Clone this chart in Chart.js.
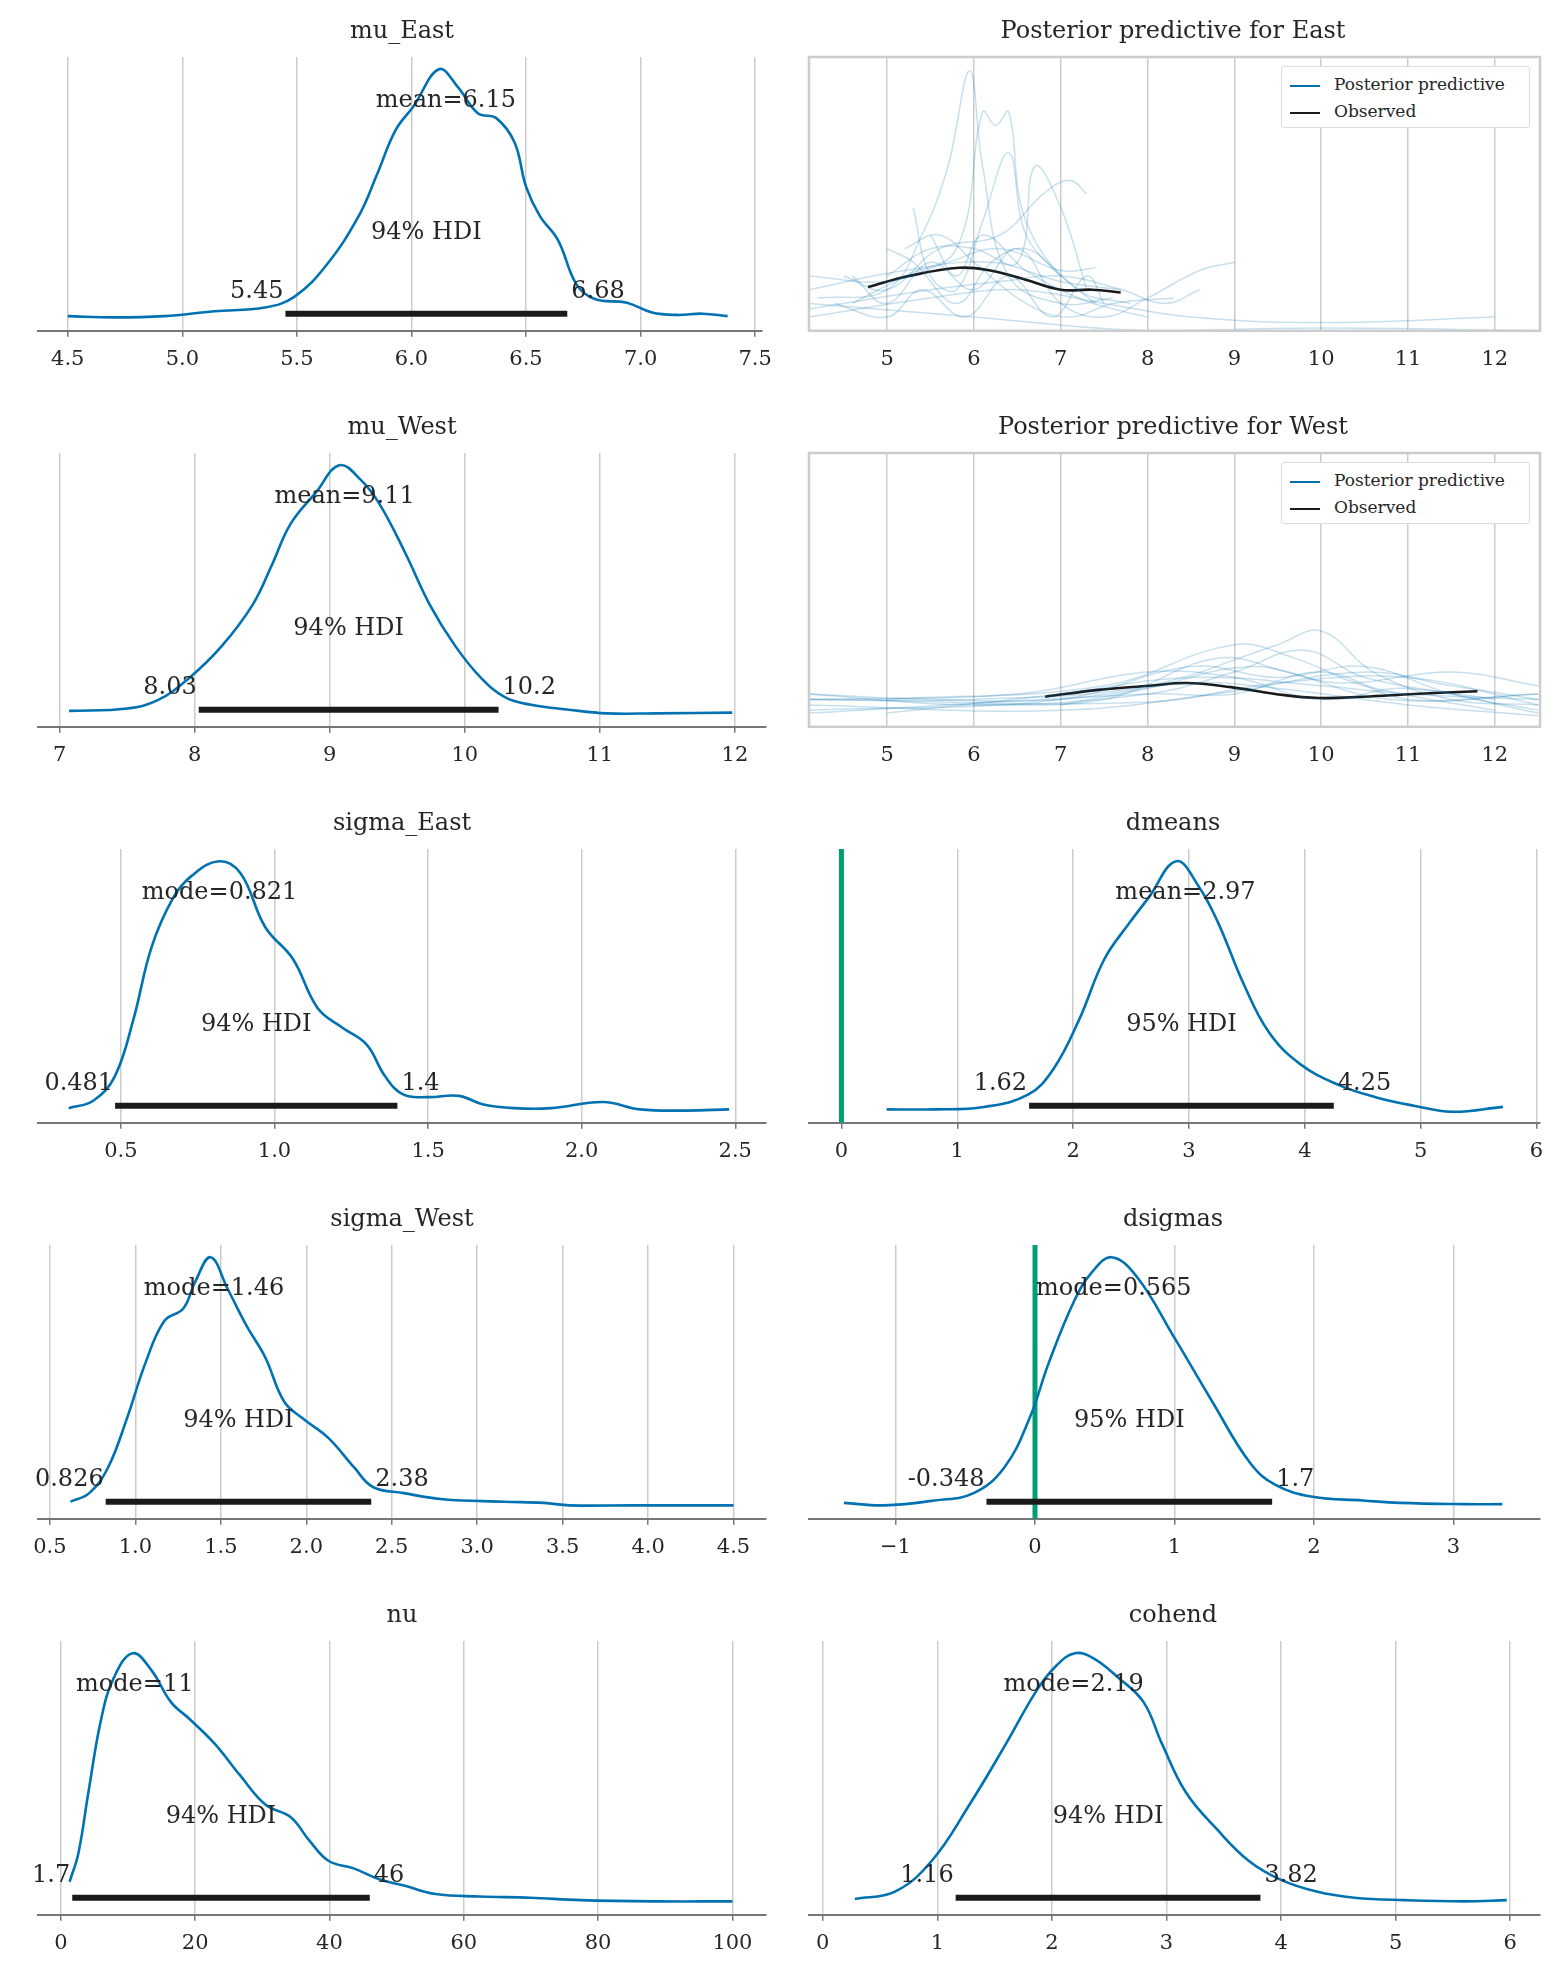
<!DOCTYPE html>
<html>
<head>
<meta charset="utf-8">
<script src="https://cdn.jsdelivr.net/npm/chart.js@4"></script>
<style>
  body { margin: 0; background: #fff; width: 1565px; height: 1980px; position: relative; font-family: 'DejaVu Serif', serif; }
  .cell { position: absolute; width: 782px; height: 396px; }
  .title { position: absolute; top: 16px; left: 0; width: 100%; text-align: center; font-size: 24px; color: #262626; }
  .cell.left .title { padding-left: 22px; box-sizing: border-box; }
  .legend { position: absolute; right: 34px; top: 66px; width: 249px; height: 62px; border: 1.5px solid #ddd; border-radius: 3px; background: #fff; font-size: 17px; color: #262626; box-sizing: border-box; padding: 4px 0 0 8px; }
  .legend div { height: 27px; line-height: 27px; }
  .legend span { display: inline-block; width: 30px; height: 0; border-top: 2.5px solid; vertical-align: middle; margin-right: 14px; }
</style>
</head>
<body>
<script>
/* ---------- data ---------- */
const muEastKde = [[4.5,-0.01],[4.7,-0.015],[4.92,-0.01],[5.14,0.01],[5.36,0.025],[5.49,0.07],[5.63,0.2],[5.77,0.4],[5.85,0.57],[5.93,0.75],[6.01,0.85],[6.12,1.0],[6.2,0.93],[6.29,0.82],[6.37,0.8],[6.45,0.7],[6.5,0.52],[6.56,0.4],[6.64,0.3],[6.72,0.12],[6.8,0.06],[6.94,0.045],[7.05,0.005],[7.16,-0.005],[7.27,0],[7.38,-0.01]];
const muWestKde = [[7.07,-0.005],[7.5,0.005],[7.73,0.04],[7.96,0.13],[8.2,0.26],[8.43,0.43],[8.57,0.59],[8.71,0.76],[8.9,0.89],[9.07,1.0],[9.23,0.94],[9.37,0.84],[9.56,0.64],[9.74,0.43],[9.93,0.26],[10.12,0.13],[10.3,0.05],[10.49,0.02],[10.77,0],[11.05,-0.015],[11.42,-0.015],[11.98,-0.012]];
const sigmaEastKde = [[0.33,-0.01],[0.41,0.02],[0.48,0.12],[0.54,0.35],[0.6,0.65],[0.67,0.85],[0.73,0.94],[0.82,1.0],[0.89,0.95],[0.97,0.73],[1.06,0.6],[1.14,0.4],[1.22,0.32],[1.3,0.25],[1.36,0.12],[1.42,0.045],[1.5,0.035],[1.6,0.04],[1.68,0.005],[1.78,-0.01],[1.9,-0.01],[2.07,0.015],[2.19,-0.015],[2.34,-0.02],[2.48,-0.015]];
const dmeansKde = [[0.39,-0.015],[0.8,-0.015],[1.23,-0.005],[1.61,0.045],[1.83,0.15],[2.05,0.35],[2.27,0.6],[2.49,0.75],[2.65,0.85],[2.89,1.0],[3.08,0.9],[3.25,0.75],[3.47,0.5],[3.69,0.3],[3.96,0.17],[4.29,0.085],[4.61,0.035],[4.94,0],[5.27,-0.025],[5.71,-0.005]];
const sigmaWestKde = [[0.62,0],[0.73,0.035],[0.84,0.14],[0.95,0.34],[1.06,0.57],[1.17,0.74],[1.28,0.79],[1.35,0.9],[1.44,1.0],[1.54,0.87],[1.65,0.72],[1.76,0.59],[1.87,0.41],[1.98,0.34],[2.13,0.26],[2.28,0.14],[2.39,0.06],[2.57,0.035],[2.8,0.01],[3.16,0],[3.39,-0.005],[3.54,-0.015],[3.91,-0.015],[4.5,-0.015]];
const dsigmasKde = [[-1.37,-0.005],[-1.08,-0.015],[-0.72,0.005],[-0.44,0.035],[-0.22,0.14],[-0.04,0.34],[0.1,0.57],[0.28,0.82],[0.41,0.94],[0.55,1.0],[0.73,0.92],[1.0,0.67],[1.27,0.41],[1.54,0.16],[1.72,0.07],[1.99,0.02],[2.35,0.005],[2.62,-0.005],[3.08,-0.01],[3.35,-0.01]];
const nuKde = [[1.3,0.065],[2.6,0.18],[4.1,0.43],[6,0.73],[7.9,0.9],[10.7,1.0],[13.5,0.93],[16.4,0.8],[19.2,0.73],[22.9,0.63],[26.7,0.5],[30.5,0.38],[34.2,0.33],[37.1,0.23],[39.9,0.15],[43.6,0.12],[47.4,0.075],[51.1,0.05],[55.8,0.015],[62.4,0.005],[69.9,0],[77.4,-0.01],[88.7,-0.015],[100,-0.015]];
const cohendKde = [[0.28,-0.005],[0.63,0.025],[0.95,0.15],[1.28,0.38],[1.6,0.63],[1.87,0.85],[2.04,0.95],[2.2,1.0],[2.36,0.98],[2.58,0.9],[2.8,0.8],[2.96,0.63],[3.17,0.43],[3.44,0.28],[3.72,0.15],[3.99,0.075],[4.31,0.025],[4.64,0],[5.08,-0.01],[5.6,-0.015],[5.97,-0.01]];

const observedEast = [[4.78,0.16],[5.25,0.2],[5.83,0.23],[6.19,0.22],[6.56,0.19],[7.0,0.15],[7.36,0.15],[7.69,0.14]];
const observedWest = [[6.82,0.11],[7.43,0.135],[8.02,0.15],[8.45,0.16],[8.96,0.145],[9.47,0.12],[9.97,0.105],[10.49,0.11],[11.07,0.12],[11.8,0.13]];

const ppcEast = [
  [[4.2,0.12],[5.0,0.15],[5.4,0.35],[5.7,0.6],[5.95,0.95],[6.1,0.6],[6.4,0.2],[7.0,0.1],[7.6,0.12]],
  [[4.6,0.1],[5.2,0.2],[5.8,0.3],[6.1,0.8],[6.25,0.75],[6.4,0.8],[6.6,0.4],[7.2,0.15],[7.8,0.1]],
  [[5.3,0.45],[5.5,0.2],[5.8,0.15],[6.1,0.4],[6.4,0.65],[6.6,0.35],[7.0,0.2]],
  [[5.0,0.2],[5.5,0.3],[6.0,0.3],[6.5,0.25],[6.7,0.6],[7.0,0.45],[7.3,0.15]],
  [[4.5,0.2],[5.0,0.15],[5.6,0.3],[6.3,0.35],[6.8,0.5],[7.1,0.55],[7.3,0.5]],
  [[4.1,0.05],[5.5,0.12],[6.5,0.15],[7.5,0.1],[8.5,0.05],[10,0.03],[12,0.05]],
  [[4.1,0.1],[6.0,0.05],[8.0,0.0],[10,0.01],[12.5,0.0]],
  [[4.6,0.2],[5.0,0.1],[5.5,0.25],[6.0,0.15],[6.5,0.3],[7.0,0.1],[7.5,0.05],[8.0,0.12],[8.6,0.22],[9.0,0.25]],
  [[5.0,0.3],[5.3,0.25],[5.8,0.1],[6.2,0.25],[6.6,0.3],[7.0,0.2],[7.4,0.1]],
  [[4.1,0.08],[5.5,0.15],[6.3,0.18],[7.0,0.2],[7.7,0.15],[8.2,0.1],[8.6,0.15]],
  [[5.5,0.35],[5.8,0.2],[6.1,0.35],[6.6,0.22],[7.2,0.12],[7.6,0.08],[8.0,0.05]],
  [[4.1,0.2],[5.0,0.18],[5.7,0.25],[6.3,0.3],[7.0,0.22],[7.4,0.23]],
  [[4.4,0.1],[5.0,0.05],[5.4,0.15],[5.9,0.05],[6.4,0.2],[6.9,0.05],[7.3,0.2],[7.5,0.1]],
  [[4.1,0.15],[5.2,0.22],[6.2,0.25],[7.0,0.18],[7.7,0.15]],
  [[5.2,0.3],[5.6,0.35],[6.0,0.25],[6.6,0.1],[7.1,0.05],[7.6,0.1],[8.3,0.12]],
];
const ppcWest = [
  [[4.1,0.1],[6,0.1],[8,0.15],[9.5,0.3],[10,0.35],[10.6,0.2],[11.5,0.1],[12.5,0.08]],
  [[4.1,0.12],[6,0.08],[8,0.12],[9,0.2],[9.8,0.28],[10.5,0.18],[12,0.1]],
  [[4.1,0.06],[7,0.1],[8.5,0.22],[9.5,0.18],[10.5,0.22],[11.5,0.12],[12.5,0.06]],
  [[5,0.05],[7,0.12],[8.5,0.18],[10,0.15],[11,0.12],[12.5,0.1]],
  [[4.1,0.1],[6.5,0.12],[8,0.2],[9,0.18],[10,0.1],[11,0.14],[12.5,0.05]],
  [[6,0.08],[7.5,0.1],[8.8,0.25],[9.6,0.2],[10.8,0.1],[12.5,0.12]],
  [[4.1,0.08],[7,0.06],[9,0.13],[10.5,0.2],[11.5,0.15],[12.5,0.1]],
  [[4.1,0.12],[5.5,0.1],[7,0.1],[8.5,0.16],[9.5,0.14],[11,0.08],[12.5,0.04]],
  [[7,0.08],[8,0.14],[9.2,0.22],[10.2,0.16],[11.5,0.2],[12.5,0.15]],
  [[4.1,0.05],[8,0.12],[9,0.12],[10,0.2],[11,0.1],[12.5,0.12]],
  [[5,0.1],[7.5,0.15],[9,0.3],[9.7,0.25],[10.5,0.15],[12,0.06]],
  [[4.1,0.1],[8,0.09],[9.5,0.16],[11,0.18],[12.5,0.08]],
];

const ppcTicks = [5, 6, 7, 8, 9, 10, 11, 12];

/* ---------- panel definitions ---------- */
const POSTERIORS = [
  { row: 0, col: 0, title: 'mu_East', kde: muEastKde, range: [4.37, 7.53], ticks: [4.5,5,5.5,6,6.5,7,7.5], tickLabels: ['4.5','5.0','5.5','6.0','6.5','7.0','7.5'], point: ['mean=6.15', 6.15], hdi: [5.45, 6.68], hdiLabels: ['5.45','6.68'], prob: '94% HDI' },
  { row: 1, col: 0, title: 'mu_West', kde: muWestKde, range: [6.84, 12.23], ticks: [7,8,9,10,11,12], tickLabels: ['7','8','9','10','11','12'], point: ['mean=9.11', 9.11], hdi: [8.03, 10.25], hdiLabels: ['8.03','10.2'], prob: '94% HDI' },
  { row: 2, col: 0, title: 'sigma_East', kde: sigmaEastKde, range: [0.23, 2.6], ticks: [0.5,1,1.5,2,2.5], tickLabels: ['0.5','1.0','1.5','2.0','2.5'], point: ['mode=0.821', 0.821], hdi: [0.481, 1.4], hdiLabels: ['0.481','1.4'], prob: '94% HDI' },
  { row: 2, col: 1, title: 'dmeans', kde: dmeansKde, range: [-0.28, 6.03], ticks: [0,1,2,3,4,5,6], tickLabels: ['0','1','2','3','4','5','6'], point: ['mean=2.97', 2.97], hdi: [1.62, 4.25], hdiLabels: ['1.62','4.25'], prob: '95% HDI', ref: 0 },
  { row: 3, col: 0, title: 'sigma_West', kde: sigmaWestKde, range: [0.43, 4.69], ticks: [0.5,1,1.5,2,2.5,3,3.5,4,4.5], tickLabels: ['0.5','1.0','1.5','2.0','2.5','3.0','3.5','4.0','4.5'], point: ['mode=1.46', 1.46], hdi: [0.826, 2.38], hdiLabels: ['0.826','2.38'], prob: '94% HDI' },
  { row: 3, col: 1, title: 'dsigmas', kde: dsigmasKde, range: [-1.62, 3.62], ticks: [-1,0,1,2,3], tickLabels: ['\u22121','0','1','2','3'], point: ['mode=0.565', 0.565], hdi: [-0.348, 1.7], hdiLabels: ['-0.348','1.7'], prob: '95% HDI', ref: 0 },
  { row: 4, col: 0, title: 'nu', kde: nuKde, range: [-3.4, 105], ticks: [0,20,40,60,80,100], tickLabels: ['0','20','40','60','80','100'], point: ['mode=11', 11], hdi: [1.7, 46], hdiLabels: ['1.7','46'], prob: '94% HDI' },
  { row: 4, col: 1, title: 'cohend', kde: cohendKde, range: [-0.12, 6.26], ticks: [0,1,2,3,4,5,6], tickLabels: ['0','1','2','3','4','5','6'], point: ['mode=2.19', 2.19], hdi: [1.16, 3.82], hdiLabels: ['1.16','3.82'], prob: '94% HDI' },
];
const PPCS = [
  { row: 0, col: 1, title: 'Posterior predictive for East', lines: ppcEast, observed: observedEast },
  { row: 1, col: 1, title: 'Posterior predictive for West', lines: ppcWest, observed: observedWest },
];

const BLUE = '#0072B2';
const FONT = "'DejaVu Serif', serif";
const TEXT = '#262626';
const Y_MIN = -0.07, Y_MAX = 1.05;
Chart.defaults.font.family = FONT;
Chart.defaults.color = TEXT;

// annotation text for posterior panels
const hdiTextPlugin = {
  id: 'hdiText',
  afterDatasetsDraw(chart, args, o) {
    if (!o || !o.point) return;
    const { ctx, scales: { x, y } } = chart;
    ctx.save();
    ctx.fillStyle = TEXT;
    ctx.font = '24px ' + FONT;
    ctx.textAlign = 'center';
    ctx.textBaseline = 'middle';
    ctx.fillText(o.point[0], x.getPixelForValue(o.point[1]), y.getPixelForValue(0.87));
    ctx.fillText(o.prob, x.getPixelForValue((o.hdi[0] + o.hdi[1]) / 2), y.getPixelForValue(0.33));
    const by = y.getPixelForValue(0) - 22;
    ctx.textAlign = 'right';
    ctx.fillText(o.hdiLabels[0], x.getPixelForValue(o.hdi[0]) - 2, by);
    ctx.textAlign = 'left';
    ctx.fillText(o.hdiLabels[1], x.getPixelForValue(o.hdi[1]) + 4, by);
    ctx.restore();
  }
};

// full box frame for predictive panels
const framePlugin = {
  id: 'frame',
  afterDraw(chart, args, o) {
    if (!o || !o.on) return;
    const a = chart.chartArea, ctx = chart.ctx;
    ctx.save();
    ctx.strokeStyle = '#cccccc';
    ctx.lineWidth = 2.5;
    ctx.strokeRect(a.left, a.top, a.right - a.left, a.bottom - a.top);
    ctx.restore();
  }
};

function makeCell(row, col, title) {
  const cell = document.createElement('div');
  cell.className = 'cell ' + (col === 0 ? 'left' : 'right');
  cell.style.left = (col * 782) + 'px';
  cell.style.top = (row * 396) + 'px';
  const canvas = document.createElement('canvas');
  canvas.width = 782; canvas.height = 396;
  cell.appendChild(canvas);
  const t = document.createElement('div');
  t.className = 'title';
  t.textContent = title;
  cell.appendChild(t);
  document.body.appendChild(cell);
  return { cell, canvas };
}

function xScale(range, ticks, labels, borderOn) {
  return {
    type: 'linear', min: range[0], max: range[1],
    afterBuildTicks: ax => { ax.ticks = ticks.map(v => ({ value: v })); },
    ticks: { autoSkip: false, maxRotation: 0, color: TEXT, font: { size: 21, family: FONT }, padding: 10,
      callback: (v, i) => labels[i] },
    grid: { color: '#cccccc', lineWidth: 1.5, tickLength: 6, tickColor: borderOn ? '#777' : 'rgba(0,0,0,0)' },
    border: { display: borderOn, color: '#777777', width: 2 },
  };
}

POSTERIORS.forEach(p => {
  const { canvas } = makeCell(p.row, p.col, p.title);
  const datasets = [
    { data: p.kde.map(([x, y]) => ({ x, y })), borderColor: BLUE, borderWidth: 2.6, tension: 0.4, pointRadius: 0 },
    { data: p.hdi.map(x => ({ x, y: 0 })), borderColor: '#1a1a1a', borderWidth: 6, pointRadius: 0 },
  ];
  if (p.ref !== undefined) {
    datasets.push({ data: [{ x: p.ref, y: Y_MIN }, { x: p.ref, y: Y_MAX }], borderColor: '#009E73', borderWidth: 5, pointRadius: 0 });
  }
  new Chart(canvas, {
    type: 'line',
    data: { datasets },
    plugins: [hdiTextPlugin],
    options: {
      responsive: false, animation: false, devicePixelRatio: 1,
      layout: { padding: p.col === 0 ? { left: 38, right: 16, top: 57, bottom: 14 } : { left: 27, right: 24, top: 57, bottom: 14 } },
      scales: {
        x: xScale(p.range, p.ticks, p.tickLabels, true),
        y: { display: false, min: Y_MIN, max: Y_MAX },
      },
      plugins: { legend: { display: false }, tooltip: { enabled: false },
        hdiText: { point: p.point, hdi: p.hdi, hdiLabels: p.hdiLabels, prob: p.prob } },
    }
  });
});

PPCS.forEach(p => {
  const { cell, canvas } = makeCell(p.row, p.col, p.title);
  const datasets = p.lines.map(l => ({
    data: l.map(([x, y]) => ({ x, y })), borderColor: 'rgba(0,114,178,0.22)', borderWidth: 1.5, tension: 0.4, pointRadius: 0
  }));
  datasets.push({ data: p.observed.map(([x, y]) => ({ x, y })), borderColor: '#1a1a1a', borderWidth: 2.6, tension: 0.4, pointRadius: 0 });
  new Chart(canvas, {
    type: 'line',
    data: { datasets },
    plugins: [framePlugin],
    options: {
      responsive: false, animation: false, devicePixelRatio: 1,
      layout: { padding: { left: 27, right: 24, top: 57, bottom: 14 } },
      scales: {
        x: xScale([4.1, 12.52], ppcTicks, ppcTicks.map(String), false),
        y: { display: false, min: 0, max: 1 },
      },
      plugins: { legend: { display: false }, tooltip: { enabled: false }, frame: { on: true } },
    }
  });
  const lg = document.createElement('div');
  lg.className = 'legend';
  lg.innerHTML = '<div><span style="border-color:' + BLUE + '"></span>Posterior predictive</div><div><span style="border-color:#1a1a1a"></span>Observed</div>';
  cell.appendChild(lg);
});
</script>
</body>
</html>
